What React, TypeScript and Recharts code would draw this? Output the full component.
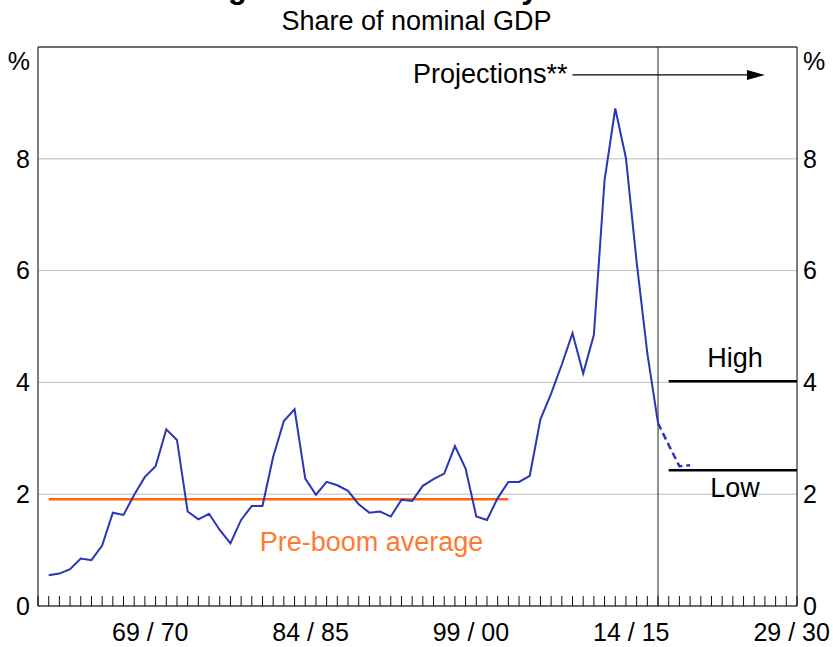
import {
  ComposedChart,
  Line,
  XAxis,
  YAxis,
  CartesianGrid,
  ReferenceLine,
  ReferenceDot,
} from "recharts";

// x is a year index: 0 = start of 1959/60, one step per financial year
const actualStart = 1;
const actualValues = [
  0.55, 0.58, 0.66, 0.85, 0.82, 1.08, 1.67, 1.63, 1.99, 2.31, 2.5, 3.16, 2.97, 1.69, 1.55,
  1.65, 1.36, 1.12, 1.54, 1.79, 1.79, 2.67, 3.31, 3.52, 2.28, 1.99, 2.22, 2.16, 2.06, 1.82,
  1.67, 1.69, 1.6, 1.9, 1.88, 2.15, 2.27, 2.37, 2.86, 2.46, 1.6, 1.54, 1.93, 2.22, 2.22,
  2.33, 3.34, 3.8, 4.32, 4.88, 4.16, 4.85, 7.62, 8.9, 8.01, 6.15, 4.52, 3.27,
];
const projectionYears = [58, 59, 60, 61];
const projectionValues = [3.27, 2.88, 2.5, 2.52];

const preBoomYears = [1, 44];
const preBoomAverage = 1.91;

const scenarioYears = [59, 71];
const highScenario = 4.02;
const lowScenario = 2.43;

const projectionStart = 58;
const arrowYears = [50, 68];
const arrowLevel = 9.5;

const yearTicks = Array.from({ length: 72 }, (_, i) => i);
const labelTicks = [10.5, 25.5, 40.5, 55.5, 70.5];
const labelNames = ["69 / 70", "84 / 85", "99 / 00", "14 / 15", "29 / 30"];
const yTicks = [0, 2, 4, 6, 8, 10];

const actualData = actualValues.map((v, i) => ({ x: actualStart + i, y: v }));
const projectionData = projectionYears.map((x, i) => ({ x, y: projectionValues[i] }));
const preBoomData = preBoomYears.map((x) => ({ x, y: preBoomAverage }));
const highData = scenarioYears.map((x) => ({ x, y: highScenario }));
const lowData = scenarioYears.map((x) => ({ x, y: lowScenario }));

const FONT = '"Liberation Sans", Arial, sans-serif';

const makeYTick = (side: "left" | "right") => (props: any) => {
  const { x, y, payload } = props;
  const top = payload.value === 10;
  return (
    <text
      x={x}
      y={top ? y + 14 : y}
      dy="0.35em"
      textAnchor={side === "left" ? "end" : "start"}
      fontSize={25}
      fontFamily={FONT}
      fill="#000"
    >
      {top ? "%" : payload.value}
    </text>
  );
};

const Arrow = (props: any) => {
  const { x1, y1, x2 } = props;
  return (
    <g>
      <text x={x1 - 5} y={y1} dy="0.3em" textAnchor="end" fontSize={27} fontFamily={FONT} fill="#000">
        Projections**
      </text>
      <line x1={x1} y1={y1} x2={x2 - 14} y2={y1} stroke="#000" strokeWidth={1.2} />
      <polygon points={`${x2},${y1} ${x2 - 18},${y1 - 5} ${x2 - 18},${y1 + 5}`} fill="#000" />
    </g>
  );
};

export default function App() {
  return (
    <div
      style={{
        position: "relative",
        width: 833,
        height: 647,
        overflow: "hidden",
        fontFamily: FONT,
        background: "#fff",
      }}
    >
      <style>{`body{margin:0}`}</style>
      <div
        style={{
          position: "absolute",
          top: -28,
          left: 147,
          fontSize: 31,
          fontWeight: "bold",
          lineHeight: 1,
          whiteSpace: "nowrap",
        }}
      >
        Mining Investment Activity
      </div>
      <div
        style={{
          position: "absolute",
          top: 8,
          left: 0,
          width: 833,
          textAlign: "center",
          fontSize: 27,
          lineHeight: 1,
        }}
      >
        Share of nominal GDP
      </div>
      <ComposedChart
        width={833}
        height={647}
        margin={{ top: 47, right: 0, bottom: 0, left: 0 }}
        style={{ position: "absolute", top: 0, left: 0 }}
      >
        <CartesianGrid vertical={false} stroke="#bdbdbd" yAxisId="left" xAxisId="a" />
        <XAxis
          xAxisId="b"
          type="number"
          dataKey="x"
          domain={[0, 71]}
          ticks={labelTicks}
          interval={0}
          height={40}
          tickLine={false}
          axisLine={false}
          tickSize={5}
          tickMargin={11}
          tickFormatter={(v: number) => labelNames[labelTicks.indexOf(v)]}
          tick={{ fontSize: 25, fill: "#000", fontFamily: FONT }}
          allowDataOverflow
        />
        <XAxis
          xAxisId="a"
          type="number"
          dataKey="x"
          domain={[0, 71]}
          ticks={yearTicks}
          interval={0}
          height={1}
          tickSize={-10}
          tickFormatter={() => ""}
          tickLine={{ stroke: "#111" }}
          axisLine={{ stroke: "#000" }}
          allowDataOverflow
        />
        <YAxis
          yAxisId="left"
          domain={[0, 10]}
          ticks={yTicks}
          width={38}
          tickLine={false}
          axisLine={{ stroke: "#000" }}
          tick={makeYTick("left")}
          allowDataOverflow
        />
        <YAxis
          yAxisId="right"
          orientation="right"
          domain={[0, 10]}
          ticks={yTicks}
          width={36}
          tickLine={false}
          tickSize={4}
          tickMargin={2}
          axisLine={{ stroke: "#000" }}
          tick={makeYTick("right")}
          allowDataOverflow
        />
        <ReferenceLine yAxisId="left" xAxisId="a" y={10} stroke="#000" />
        <ReferenceLine yAxisId="left" xAxisId="a" x={projectionStart} stroke="#222" />
        <ReferenceLine
          yAxisId="left"
          xAxisId="a"
          segment={[
            { x: arrowYears[0], y: arrowLevel },
            { x: arrowYears[1], y: arrowLevel },
          ]}
          shape={Arrow}
        />
        <ReferenceDot
          yAxisId="left"
          xAxisId="a"
          x={65.2}
          y={4.45}
          r={0}
          stroke="none"
          fill="none"
          label={{ value: "High", position: "center", fontSize: 27, fill: "#000", fontFamily: FONT }}
        />
        <ReferenceDot
          yAxisId="left"
          xAxisId="a"
          x={65.2}
          y={2.13}
          r={0}
          stroke="none"
          fill="none"
          label={{ value: "Low", position: "center", fontSize: 27, fill: "#000", fontFamily: FONT }}
        />
        <ReferenceDot
          yAxisId="left"
          xAxisId="a"
          x={31.2}
          y={1.16}
          r={0}
          stroke="none"
          fill="none"
          label={{
            value: "Pre-boom average",
            position: "center",
            fontSize: 27,
            fill: "#ff7a30",
            fontFamily: FONT,
          }}
        />
        <Line
          yAxisId="right"
          xAxisId="b"
          data={highData}
          dataKey="y"
          stroke="#000"
          strokeWidth={2.5}
          dot={false}
          isAnimationActive={false}
        />
        <Line
          yAxisId="right"
          xAxisId="b"
          data={lowData}
          dataKey="y"
          stroke="#000"
          strokeWidth={2.5}
          dot={false}
          isAnimationActive={false}
        />
        <Line
          yAxisId="left"
          xAxisId="a"
          data={preBoomData}
          dataKey="y"
          stroke="#ff6414"
          strokeWidth={2.5}
          dot={false}
          isAnimationActive={false}
        />
        <Line
          yAxisId="left"
          xAxisId="a"
          data={actualData}
          dataKey="y"
          type="linear"
          stroke="#2a36b4"
          strokeWidth={2}
          dot={false}
          isAnimationActive={false}
        />
        <Line
          yAxisId="left"
          xAxisId="a"
          data={projectionData}
          dataKey="y"
          type="linear"
          stroke="#2a36b4"
          strokeWidth={2.5}
          strokeDasharray="7 4"
          dot={false}
          isAnimationActive={false}
        />
      </ComposedChart>
    </div>
  );
}
